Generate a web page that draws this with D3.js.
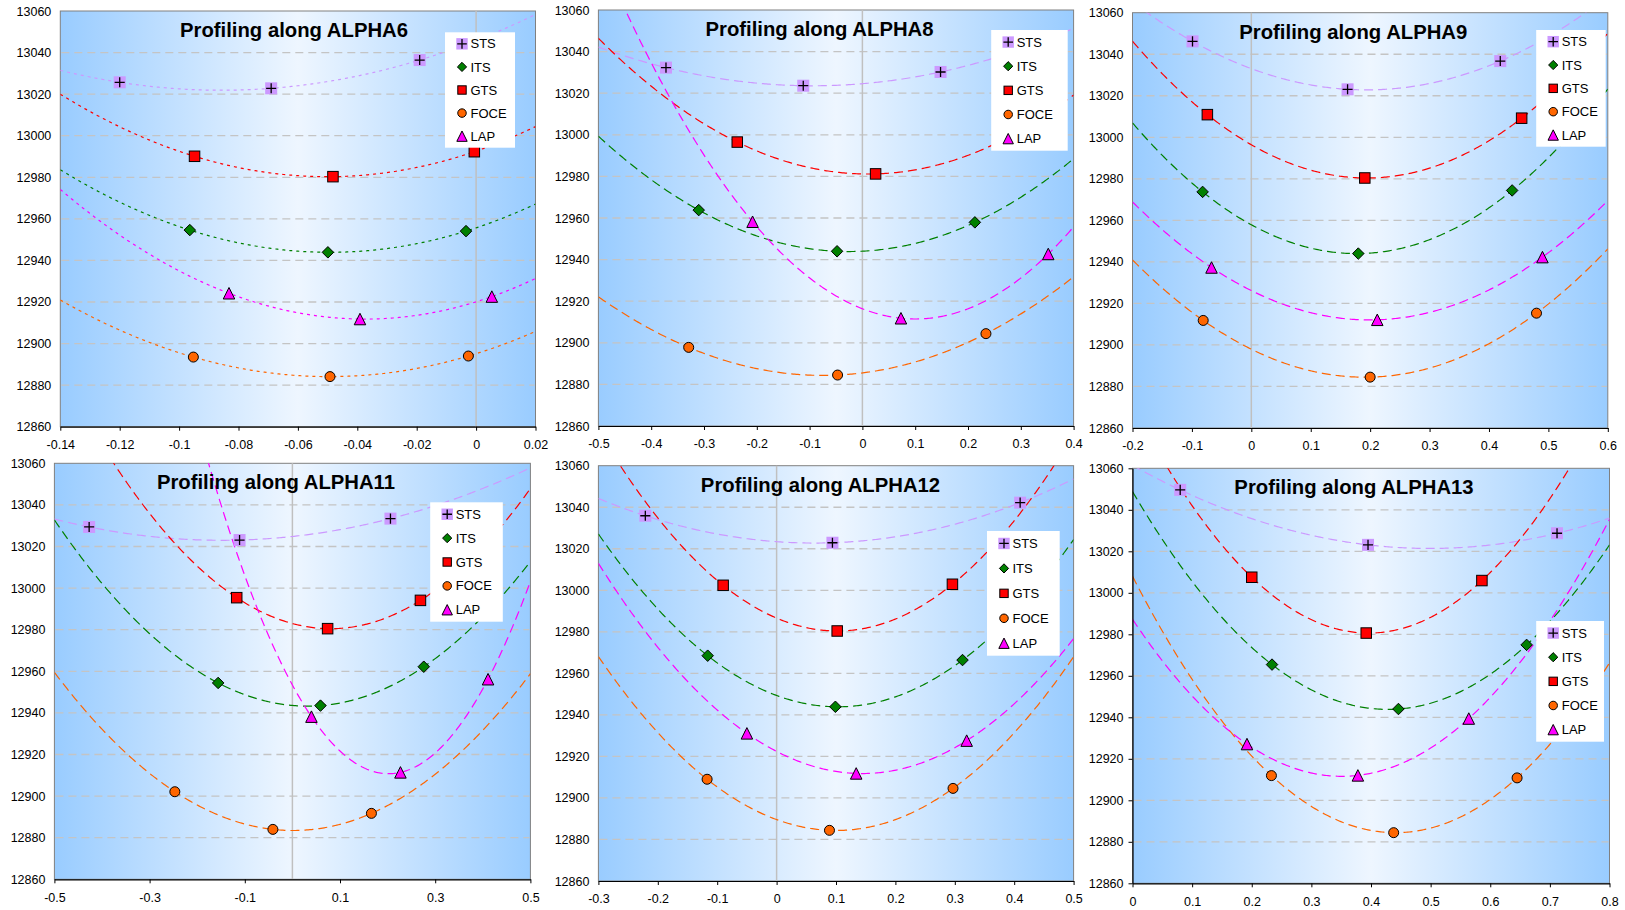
<!DOCTYPE html>
<html>
<head>
<meta charset="utf-8">
<script src="https://cdn.jsdelivr.net/npm/d3@7"></script>
<style>
  body { margin: 0; background: #ffffff; }
  svg { display: block; }
  text { font-family: "Liberation Sans", Arial, sans-serif; }
</style>
</head>
<body>
<svg id="chart" width="1625" height="910"></svg>
<script>
// ---- data -------------------------------------------------------------
const seriesNames = ["STS", "ITS", "GTS", "FOCE", "LAP"];
const yTicks = [12860, 12880, 12900, 12920, 12940, 12960, 12980, 13000, 13020, 13040, 13060];

const xTicksAlpha6  = [-0.14, -0.12, -0.1, -0.08, -0.06, -0.04, -0.02, 0, 0.02];
const xTicksAlpha8  = [-0.5, -0.4, -0.3, -0.2, -0.1, 0, 0.1, 0.2, 0.3, 0.4];
const xTicksAlpha9  = [-0.2, -0.1, 0, 0.1, 0.2, 0.3, 0.4, 0.5, 0.6];
const xTicksAlpha11 = [-0.5, -0.3, -0.1, 0.1, 0.3, 0.5];
const xTicksAlpha12 = [-0.3, -0.2, -0.1, 0, 0.1, 0.2, 0.3, 0.4, 0.5];
const xTicksAlpha13 = [0, 0.1, 0.2, 0.3, 0.4, 0.5, 0.6, 0.7, 0.8];

// [series, parameter value, objective function]
const alpha6 = [
  ["STS", -0.120, 13025.7], ["STS", -0.069, 13022.8], ["STS", -0.019, 13036.4],
  ["ITS", -0.0964, 12954.6], ["ITS", -0.0499, 12943.9], ["ITS", -0.0034, 12954.1],
  ["GTS", -0.0948, 12990.1], ["GTS", -0.0482, 12980.3], ["GTS", -0.0006, 12992.3],
  ["FOCE", -0.0952, 12893.5], ["FOCE", -0.0492, 12884.1], ["FOCE", -0.0026, 12894.0],
  ["LAP", -0.0832, 12924.2], ["LAP", -0.0391, 12911.8], ["LAP", 0.0053, 12922.6]
];
const alpha8 = [
  ["STS", -0.372, 13032.3], ["STS", -0.112, 13023.6], ["STS", 0.148, 13030.2],
  ["ITS", -0.310, 12963.8], ["ITS", -0.048, 12944.0], ["ITS", 0.213, 12957.9],
  ["GTS", -0.237, 12996.5], ["GTS", 0.025, 12981.2], ["GTS", 0.288, 13000.4],
  ["FOCE", -0.329, 12897.8], ["FOCE", -0.047, 12884.5], ["FOCE", 0.234, 12904.4],
  ["LAP", -0.208, 12958.2], ["LAP", 0.073, 12911.8], ["LAP", 0.352, 12942.7]
];
const alpha9 = [
  ["STS", -0.099, 13046.2], ["STS", 0.162, 13023.1], ["STS", 0.419, 13036.7],
  ["ITS", -0.082, 12973.7], ["ITS", 0.180, 12944.0], ["ITS", 0.439, 12974.4],
  ["GTS", -0.074, 13010.9], ["GTS", 0.191, 12980.4], ["GTS", 0.455, 13009.2],
  ["FOCE", -0.081, 12911.8], ["FOCE", 0.200, 12884.5], ["FOCE", 0.480, 12915.3],
  ["LAP", -0.067, 12937.3], ["LAP", 0.212, 12912.1], ["LAP", 0.490, 12942.3]
];
const alpha11 = [
  ["STS", -0.427, 13029.4], ["STS", -0.111, 13023.1], ["STS", 0.206, 13033.4],
  ["ITS", -0.156, 12954.4], ["ITS", 0.059, 12943.5], ["ITS", 0.276, 12962.2],
  ["GTS", -0.117, 12995.4], ["GTS", 0.074, 12980.5], ["GTS", 0.269, 12994.1],
  ["FOCE", -0.247, 12902.1], ["FOCE", -0.041, 12884.0], ["FOCE", 0.166, 12891.7],
  ["LAP", 0.040, 12938.2], ["LAP", 0.227, 12911.4], ["LAP", 0.411, 12956.2]
];
const alpha12 = [
  ["STS", -0.221, 13035.9], ["STS", 0.094, 13022.9], ["STS", 0.410, 13042.2],
  ["ITS", -0.116, 12968.5], ["ITS", 0.099, 12943.9], ["ITS", 0.313, 12966.4],
  ["GTS", -0.090, 13002.4], ["GTS", 0.102, 12980.4], ["GTS", 0.296, 13002.9],
  ["FOCE", -0.117, 12909.0], ["FOCE", 0.089, 12884.4], ["FOCE", 0.297, 12904.6],
  ["LAP", -0.050, 12931.1], ["LAP", 0.134, 12911.8], ["LAP", 0.320, 12927.6]
];
const alpha13 = [
  ["STS", 0.080, 13049.6], ["STS", 0.395, 13023.1], ["STS", 0.712, 13028.7],
  ["ITS", 0.234, 12965.4], ["ITS", 0.446, 12944.0], ["ITS", 0.661, 12974.9],
  ["GTS", 0.200, 13007.5], ["GTS", 0.392, 12980.6], ["GTS", 0.586, 13005.9],
  ["FOCE", 0.233, 12911.9], ["FOCE", 0.438, 12884.4], ["FOCE", 0.645, 12910.8],
  ["LAP", 0.192, 12927.1], ["LAP", 0.378, 12912.0], ["LAP", 0.564, 12939.4]
];

const panelNames = ["ALPHA6", "ALPHA8", "ALPHA9", "ALPHA11", "ALPHA12", "ALPHA13"];
const panelData  = [alpha6, alpha8, alpha9, alpha11, alpha12, alpha13];
const panelTicks = [xTicksAlpha6, xTicksAlpha8, xTicksAlpha9, xTicksAlpha11, xTicksAlpha12, xTicksAlpha13];

// ---- layout & style ---------------------------------------------------
const layout = [
  { x0: 60.3,   x1: 535.5,  y0: 11,    y1: 426.7, titleX: 294,    dash: "3,4",
    legend: { x: 445,    y: 32.3,  w: 70,   h: 115.4 } },
  { x0: 598.4,  x1: 1073.6, y0: 10,    y1: 426,   titleX: 819.5,  dash: "9,5",
    legend: { x: 991.2,  y: 30,    w: 76.5, h: 120.7 } },
  { x0: 1132.5, x1: 1607.8, y0: 12.7,  y1: 428,   titleX: 1353.3, dash: "9,5",
    legend: { x: 1536.2, y: 30,    w: 69.5, h: 116.7 } },
  { x0: 54.4,   x1: 530.4,  y0: 463.3, y1: 879.3, titleX: 276,    dash: "9,5",
    legend: { x: 430.2,  y: 502.3, w: 72.6, h: 119.4 } },
  { x0: 598.4,  x1: 1073.6, y0: 465.7, y1: 881,   titleX: 820.5,  dash: "9,5",
    legend: { x: 987,    y: 531,   w: 72.7, h: 124.7 } },
  { x0: 1132.5, x1: 1609.5, y0: 468.3, y1: 883.3, titleX: 1354,   dash: "9,5",
    legend: { x: 1536.2, y: 621,   w: 67.8, h: 120.7 } }
];

const seriesStyle = {
  STS:  { line: "#CC99FF", fill: "#CC99FF", shape: "sts",      size: 12 },
  ITS:  { line: "#008000", fill: "#008000", shape: "diamond",  size: 11.5 },
  GTS:  { line: "#FF0000", fill: "#FF0000", shape: "square",   size: 10.5 },
  FOCE: { line: "#FF6600", fill: "#FF6600", shape: "circle",   size: 10 },
  LAP:  { line: "#FF00FF", fill: "#FF00FF", shape: "triangle", size: 11.5 }
};
const legendScale = { STS: 0.95, ITS: 0.8, GTS: 0.8, FOCE: 0.85, LAP: 0.9 };

const fmt = v => { const s = String(+v.toFixed(3)); return s; };

const svg = d3.select("#chart");
const defs = svg.append("defs");

function drawMarker(g, shape, s, fill) {
  const h = s / 2;
  if (shape === "sts") {
    g.append("rect").attr("x", -h).attr("y", -h).attr("width", s).attr("height", s)
      .attr("fill", fill);
    const a = s * 0.42;
    g.append("path").attr("d", `M${-a},0H${a}M0,${-a}V${a}`)
      .attr("stroke", "#000").attr("stroke-width", 1.3).attr("fill", "none");
  } else if (shape === "square") {
    g.append("rect").attr("x", -h).attr("y", -h).attr("width", s).attr("height", s)
      .attr("fill", fill).attr("stroke", "#000").attr("stroke-width", 1);
  } else if (shape === "diamond") {
    g.append("path").attr("d", `M0,${-h}L${h},0L0,${h}L${-h},0Z`)
      .attr("fill", fill).attr("stroke", "#000").attr("stroke-width", 1);
  } else if (shape === "circle") {
    g.append("circle").attr("r", h)
      .attr("fill", fill).attr("stroke", "#000").attr("stroke-width", 1);
  } else if (shape === "triangle") {
    g.append("path").attr("d", `M0,${-h}L${h},${h}L${-h},${h}Z`)
      .attr("fill", fill).attr("stroke", "#000").attr("stroke-width", 1);
  }
}

// quadratic trendline through the three profile points of a series
function quadratic(pts) {
  const [[x1, y1], [x2, y2], [x3, y3]] = pts;
  return x => y1 * (x - x2) * (x - x3) / ((x1 - x2) * (x1 - x3))
            + y2 * (x - x1) * (x - x3) / ((x2 - x1) * (x2 - x3))
            + y3 * (x - x1) * (x - x2) / ((x3 - x1) * (x3 - x2));
}

panelNames.forEach((name, i) => {
  const L = layout[i];
  const data = panelData[i];
  const ticks = panelTicks[i];
  const xDomain = [ticks[0], ticks[ticks.length - 1]];

  const x = d3.scaleLinear().domain(xDomain).range([L.x0, L.x1]);
  const y = d3.scaleLinear().domain([12860, 13060]).range([L.y1, L.y0]);

  const g = svg.append("g");

  // plot area background: blue at the edges, pale in the middle
  const gid = "bg" + i;
  const grad = defs.append("linearGradient").attr("id", gid)
    .attr("x1", "0%").attr("x2", "100%").attr("y1", "0%").attr("y2", "0%");
  grad.append("stop").attr("offset", "0%").attr("stop-color", "#99CCFF");
  grad.append("stop").attr("offset", "50%").attr("stop-color", "#EEF6FF");
  grad.append("stop").attr("offset", "100%").attr("stop-color", "#99CCFF");

  g.append("rect").attr("x", L.x0).attr("y", L.y0)
    .attr("width", L.x1 - L.x0).attr("height", L.y1 - L.y0)
    .attr("fill", `url(#${gid})`).attr("stroke", "#808080").attr("stroke-width", 1);

  // horizontal dashed gridlines
  g.append("g").selectAll("line")
    .data(yTicks.slice(1, -1))
    .join("line")
    .attr("x1", L.x0 + 1).attr("x2", L.x1 - 1)
    .attr("y1", d => y(d)).attr("y2", d => y(d))
    .attr("stroke", "#C4C4C4").attr("stroke-width", 1.3)
    .attr("stroke-dasharray", "8,5");

  // vertical line at zero
  if (xDomain[0] < 0 && xDomain[1] > 0) {
    g.append("line").attr("x1", x(0)).attr("x2", x(0))
      .attr("y1", L.y0).attr("y2", L.y1)
      .attr("stroke", "#C0C0C0").attr("stroke-width", 1.5);
  }

  // trendlines, clipped to the plot area
  const cid = "clip" + i;
  defs.append("clipPath").attr("id", cid).append("rect")
    .attr("x", L.x0).attr("y", L.y0).attr("width", L.x1 - L.x0).attr("height", L.y1 - L.y0);
  const curves = g.append("g").attr("clip-path", `url(#${cid})`);
  const line = d3.line().x(d => x(d[0])).y(d => y(d[1]));
  const samples = d3.range(0, 301).map(k => xDomain[0] + (xDomain[1] - xDomain[0]) * k / 300);

  seriesNames.forEach(s => {
    const pts = data.filter(d => d[0] === s).map(d => [d[1], d[2]]);
    const f = quadratic(pts);
    curves.append("path")
      .attr("d", line(samples.map(v => [v, f(v)])))
      .attr("fill", "none").attr("stroke", seriesStyle[s].line)
      .attr("stroke-width", 1.2).attr("stroke-dasharray", L.dash);
  });

  // markers
  seriesNames.forEach(s => {
    const st = seriesStyle[s];
    data.filter(d => d[0] === s).forEach(d => {
      const mg = g.append("g").attr("transform", `translate(${x(d[1])},${y(d[2])})`);
      drawMarker(mg, st.shape, st.size, st.fill);
    });
  });

  // axes
  const xAxis = d3.axisBottom(x).tickValues(ticks).tickFormat(fmt)
    .tickSize(4).tickSizeOuter(0).tickPadding(9.5);
  const gx = g.append("g").attr("transform", `translate(0,${L.y1})`).call(xAxis);
  gx.select(".domain").attr("stroke", "#000").attr("stroke-width", 1.2);
  gx.selectAll(".tick line").attr("stroke", "#000");
  gx.selectAll("text").attr("font-size", 12.5).attr("fill", "#000")
    .attr("font-family", "Liberation Sans, Arial, sans-serif");

  const atZero = xDomain[0] === 0;
  const yAxis = d3.axisLeft(y).tickValues(yTicks).tickFormat(d3.format("d"))
    .tickSize(atZero ? 4 : 0).tickSizeOuter(0).tickPadding(atZero ? 5 : 9);
  const gy = g.append("g").attr("transform", `translate(${L.x0},0)`).call(yAxis);
  if (atZero) {
    gy.select(".domain").attr("stroke", "#000").attr("stroke-width", 1.2);
    gy.selectAll(".tick line").attr("stroke", "#000");
  } else {
    gy.select(".domain").remove();
  }
  gy.selectAll("text").attr("font-size", 12.5).attr("fill", "#000")
    .attr("font-family", "Liberation Sans, Arial, sans-serif");

  // title
  g.append("text").attr("x", L.titleX).attr("y", L.y0 + 25.8)
    .attr("text-anchor", "middle").attr("font-weight", "bold")
    .attr("font-size", 20.3).attr("fill", "#000")
    .text("Profiling along " + name);

  // legend
  const lg = g.append("g");
  lg.append("rect").attr("x", L.legend.x).attr("y", L.legend.y)
    .attr("width", L.legend.w).attr("height", L.legend.h).attr("fill", "#fff");
  const step = L.legend.h / seriesNames.length;
  seriesNames.forEach((s, k) => {
    const cy = L.legend.y + step * (k + 0.5);
    const st = seriesStyle[s];
    const mg = lg.append("g").attr("transform", `translate(${L.legend.x + 17},${cy})`);
    drawMarker(mg, st.shape, st.size * legendScale[s], st.fill);
    lg.append("text").attr("x", L.legend.x + 25.5).attr("y", cy + 4.6)
      .attr("font-size", 13).attr("fill", "#000").text(s);
  });
});
</script>
</body>
</html>
